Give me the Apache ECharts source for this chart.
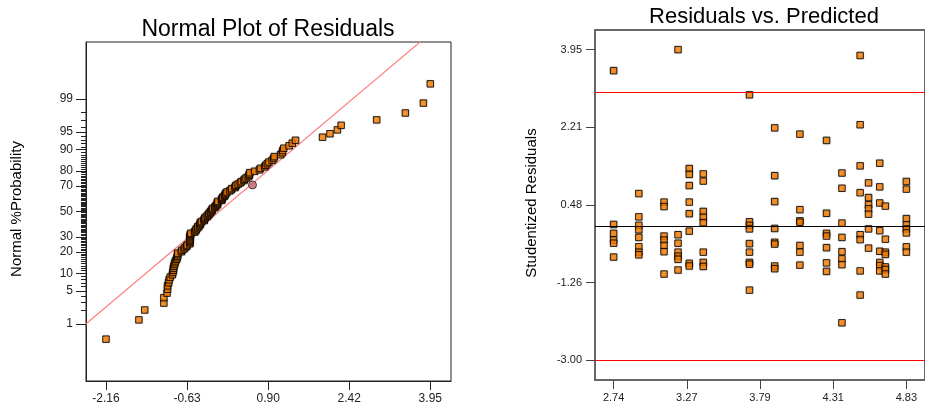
<!DOCTYPE html>
<html>
<head>
<meta charset="utf-8">
<title>Residual diagnostics</title>
<script src="https://cdn.jsdelivr.net/npm/echarts@6/dist/echarts.min.js"></script>
<style>
html, body { margin: 0; padding: 0; background: #fff; }
#chart { width: 925px; height: 408px; }
</style>
</head>
<body>
<div id="chart"></div>
<script>
/*--------------------------------- data --------------------------------------------------*/
// predicted values (one column of points each) and the studentized residuals at each
var predicted = [2.74, 2.92, 3.10, 3.20, 3.28, 3.38, 3.71, 3.89, 4.07, 4.26, 4.37, 4.50, 4.56, 4.64, 4.68, 4.83];
var residuals = [
    [3.48, 0.04, -0.16, -0.31, -0.38, -0.69],
    [0.73, 0.21, 0.02, -0.08, -0.25, -0.46, -0.58, -0.64],
    [0.54, 0.44, -0.22, -0.31, -0.43, -0.57, -1.07],
    [3.95, -0.19, -0.38, -0.58, -0.67, -0.74, -0.98],
    [1.29, 1.16, 0.91, 0.54, 0.28, -0.11, -0.83, -0.89],
    [1.17, 1.01, 0.33, 0.20, 0.08, -0.58, -0.81, -0.90],
    [2.94, 0.10, 0.02, -0.06, -0.39, -0.58, -0.81, -0.85, -1.43],
    [2.20, 1.13, 0.55, -0.05, -0.36, -0.40, -0.89, -0.95],
    [2.06, 0.37, 0.12, 0.09, -0.43, -0.58, -0.87],
    [1.92, 0.29, -0.16, -0.22, -0.48, -0.82, -1.01],
    [1.19, 0.85, 0.07, -0.25, -0.57, -0.73, -0.86, -2.16],
    [3.82, 2.27, 1.35, 0.75, -0.19, -0.30, -1.00, -1.54],
    [0.97, 0.64, 0.48, 0.39, 0.27, -0.06, -0.49],
    [1.41, 0.88, 0.52, -0.10, -0.56, -0.81, -0.88, -1.00],
    [0.45, -0.29, -0.58, -0.63, -0.91, -0.97, -1.07],
    [1.00, 0.83, 0.17, 0.03, -0.06, -0.15, -0.46, -0.58]
];
var limits = [-3.00, 3.00];

// normal plot: residual and its normal % probability
var normalX = [
    -2.16, -1.54, -1.43, -1.07, -1.07, -1.01, -1.00, -1.00, -0.98, -0.97,
    -0.95, -0.91, -0.90, -0.89, -0.89, -0.88, -0.87, -0.86, -0.85, -0.83,
    -0.82, -0.81, -0.81, -0.81, -0.74, -0.73, -0.69, -0.67, -0.64, -0.63,
    -0.58, -0.58, -0.58, -0.58, -0.58, -0.58, -0.58, -0.57, -0.57, -0.56,
    -0.49, -0.48, -0.46, -0.46, -0.43, -0.43, -0.40, -0.39, -0.38, -0.38,
    -0.36, -0.31, -0.31, -0.30, -0.29, -0.25, -0.25, -0.22, -0.22, -0.19,
    -0.19, -0.16, -0.16, -0.15, -0.11, -0.10, -0.08, -0.06, -0.06, -0.06,
    -0.05, 0.02, 0.02, 0.03, 0.04, 0.07, 0.08, 0.09, 0.10, 0.12,
    0.17, 0.20, 0.21, 0.27, 0.28, 0.29, 0.33, 0.37, 0.39, 0.44,
    0.45, 0.48, 0.52, 0.54, 0.54, 0.55, 0.64, 0.73, 0.75, 0.83,
    0.85, 0.88, 0.91, 0.97, 1.00, 1.01, 1.13, 1.16, 1.17, 1.19,
    1.29, 1.35, 1.41, 1.92, 2.06, 2.20, 2.27, 2.94, 3.48, 3.82,
    3.95
];
var normalPct = [
    0.41, 1.24, 2.07, 2.89, 3.72, 4.55, 5.37, 6.20, 7.02, 7.85,
    8.68, 9.50, 10.33, 11.16, 11.98, 12.81, 13.64, 14.46, 15.29, 16.12,
    16.94, 17.77, 18.60, 19.42, 20.25, 21.07, 21.90, 22.73, 23.55, 24.38,
    25.21, 26.03, 26.86, 27.69, 28.51, 29.34, 30.17, 30.99, 31.82, 32.64,
    33.47, 34.30, 35.12, 35.95, 36.78, 37.60, 38.43, 39.26, 40.08, 40.91,
    41.74, 42.56, 43.39, 44.21, 45.04, 45.87, 46.69, 47.52, 48.35, 49.17,
    50.00, 50.83, 51.65, 52.48, 53.31, 54.13, 54.96, 55.79, 56.61, 57.44,
    58.26, 59.09, 59.92, 60.74, 61.57, 62.40, 63.22, 64.05, 64.88, 65.70,
    66.53, 67.36, 68.18, 69.01, 69.83, 70.66, 71.49, 72.31, 73.14, 73.97,
    74.79, 75.62, 76.45, 77.27, 78.10, 78.93, 79.75, 80.58, 81.40, 82.23,
    83.06, 83.88, 84.71, 85.54, 86.36, 87.19, 88.02, 88.84, 89.67, 90.50,
    91.32, 92.15, 92.98, 93.80, 94.63, 95.45, 96.28, 97.11, 97.93, 98.76,
    99.59
];
var highlighted = [0.60, 70.9];          // the circled point
var fitLineX = [-2.54, 4.34];            // reference line ends, residual
var fitLineZ = [-2.33, 4.05];            // reference line ends, normal score

// tick labels
var normalXTicks = [-2.16, -0.6325, 0.895, 2.4225, 3.95];
var normalXLabels = ['-2.16', '-0.63', '0.90', '2.42', '3.95'];
var pctTicks = [1, 5, 10, 20, 30, 50, 70, 80, 90, 95, 99];
var predTicks = [2.74, 3.2625, 3.785, 4.3075, 4.83];
var predLabels = ['2.74', '3.27', '3.79', '4.31', '4.83'];
var resTicks = [-3.00, -1.2625, 0.475, 2.2125, 3.95];
var resLabels = ['-3.00', '-1.26', '0.48', '2.21', '3.95'];

/*--------------------------------- helpers -----------------------------------------------*/
// inverse normal cdf (Acklam), used for the probability axis
function probit(p) {
    var a = [-39.69683028665376, 220.9460984245205, -275.9285104469687, 138.3577518672690, -30.66479806614716, 2.506628277459239];
    var b = [-54.47609879822406, 161.5858368580409, -155.6989798598866, 66.80131188771972, -13.28068155211986];
    var c = [-0.007784894002430293, -0.3223964580411365, -2.400758277161838, -2.549732539343734, 4.374664141464968, 2.938163982698783];
    var d = [0.007784695709041462, 0.3224671290700398, 2.445134137142996, 3.754408661907416];
    var pl = 0.02425, q, r;
    if (p < pl) {
        q = Math.sqrt(-2 * Math.log(p));
        return (((((c[0] * q + c[1]) * q + c[2]) * q + c[3]) * q + c[4]) * q + c[5]) / ((((d[0] * q + d[1]) * q + d[2]) * q + d[3]) * q + 1);
    }
    if (p > 1 - pl) {
        q = Math.sqrt(-2 * Math.log(1 - p));
        return -(((((c[0] * q + c[1]) * q + c[2]) * q + c[3]) * q + c[4]) * q + c[5]) / ((((d[0] * q + d[1]) * q + d[2]) * q + d[3]) * q + 1);
    }
    q = p - 0.5;
    r = q * q;
    return (((((a[0] * r + a[1]) * r + a[2]) * r + a[3]) * r + a[4]) * r + a[5]) * q / (((((b[0] * r + b[1]) * r + b[2]) * r + b[3]) * r + b[4]) * r + 1);
}

function labelOf(ticks, labels) {
    return function (v) {
        var best = 0;
        for (var i = 1; i < ticks.length; i++) {
            if (Math.abs(ticks[i] - v) < Math.abs(ticks[best] - v)) best = i;
        }
        return labels[best];
    };
}

var pctZ = pctTicks.map(function (p) { return probit(p / 100); });
var minorZ = [];
for (var k = 2; k <= 98; k++) {
    if (pctTicks.indexOf(k) < 0) minorZ.push(probit(k / 100));
}

var normalData = normalX.map(function (x, i) { return [x, probit(normalPct[i] / 100)]; });
var residData = [];
for (var i = 0; i < predicted.length; i++) {
    for (var j = 0; j < residuals[i].length; j++) {
        residData.push([predicted[i], residuals[i][j]]);
    }
}

var FONT = 'Liberation Sans, Arial, sans-serif';
var squareStyle = {
    color: '#ff8000',
    borderColor: '#000',
    borderWidth: 1,
    shadowBlur: 1.5,
    shadowColor: 'rgba(0,0,0,0.3)'
};

/*--------------------------------- chart -------------------------------------------------*/
var chart = echarts.init(document.getElementById('chart'), null, { renderer: 'canvas' });

chart.setOption({
    animation: false,
    backgroundColor: '#fff',
    title: [{
        text: 'Normal Plot of Residuals',
        left: 268,
        top: 18,
        padding: 0,
        textAlign: 'center',
        textStyle: { fontSize: 23, fontWeight: 'normal', color: '#000', fontFamily: FONT }
    }, {
        text: 'Residuals vs. Predicted',
        left: 764,
        top: 6,
        padding: 0,
        textAlign: 'center',
        textStyle: { fontSize: 22, fontWeight: 'normal', color: '#000', fontFamily: FONT }
    }],
    graphic: [{
        type: 'text',
        x: 17,
        y: 209,
        rotation: Math.PI / 2,
        style: { text: 'Normal %Probability', font: '15px ' + FONT, fill: '#000', align: 'center', verticalAlign: 'middle' }
    }, {
        type: 'text',
        x: 532,
        y: 203,
        rotation: Math.PI / 2,
        style: { text: 'Studentized Residuals', font: '15px ' + FONT, fill: '#000', align: 'center', verticalAlign: 'middle' }
    }],
    grid: [{
        left: 86, right: 474, top: 42, bottom: 27,
        show: true, borderColor: '#222', borderWidth: 1
    }, {
        left: 595, right: -7, top: 30, bottom: 28,
        show: true, borderColor: '#666', borderWidth: 2
    }],
    xAxis: [{
        gridIndex: 0,
        type: 'value',
        min: -2.537,
        max: 4.34,
        splitLine: { show: false },
        axisLine: { onZero: false, lineStyle: { color: '#222', width: 1 } },
        axisTick: { customValues: normalXTicks, length: 9, lineStyle: { color: '#222' } },
        axisLabel: { customValues: normalXTicks, formatter: labelOf(normalXTicks, normalXLabels), margin: 12, fontSize: 12, color: '#222', fontFamily: FONT }
    }, {
        gridIndex: 1,
        type: 'value',
        min: 2.607,
        max: 4.963,
        splitLine: { show: false },
        axisLine: { onZero: false, lineStyle: { color: '#666', width: 2 } },
        axisTick: { customValues: predTicks, length: 9, lineStyle: { color: '#444' } },
        axisLabel: { customValues: predTicks, formatter: labelOf(predTicks, predLabels), margin: 12, fontSize: 11, color: '#222', fontFamily: FONT }
    }],
    yAxis: [{
        gridIndex: 0,
        type: 'value',
        position: 'left',
        min: -3.51,
        max: 3.51,
        splitLine: { show: false },
        axisLine: { onZero: false, lineStyle: { color: '#222', width: 1 } },
        axisTick: { customValues: pctZ, length: 10, lineStyle: { color: '#222' } },
        axisLabel: { customValues: pctZ, formatter: labelOf(pctZ, pctTicks), margin: 13, fontSize: 12, color: '#222', fontFamily: FONT }
    }, {
        gridIndex: 0,
        type: 'value',
        position: 'left',
        offset: 0,
        min: -3.51,
        max: 3.51,
        splitLine: { show: false },
        axisLine: { show: false, onZero: false },
        axisTick: { customValues: minorZ, length: 5, lineStyle: { color: '#222' } },
        axisLabel: { show: false }
    }, {
        gridIndex: 1,
        type: 'value',
        position: 'left',
        min: -3.44,
        max: 4.39,
        splitLine: { show: false },
        axisLine: { onZero: false, lineStyle: { color: '#666', width: 2 } },
        axisTick: { customValues: resTicks, length: 9, lineStyle: { color: '#444' } },
        axisLabel: { customValues: resTicks, formatter: labelOf(resTicks, resLabels), margin: 13, fontSize: 11, color: '#222', fontFamily: FONT }
    }],
    series: [{
        name: 'fit',
        type: 'line',
        xAxisIndex: 0,
        yAxisIndex: 0,
        z: 1,
        clip: true,
        symbol: 'none',
        silent: true,
        lineStyle: { color: '#ff8080', width: 1.2 },
        data: [[fitLineX[0], fitLineZ[0]], [fitLineX[1], fitLineZ[1]]]
    }, {
        name: 'normal',
        type: 'scatter',
        xAxisIndex: 0,
        yAxisIndex: 0,
        z: 3,
        symbol: 'rect',
        symbolSize: 6.5,
        itemStyle: squareStyle,
        data: normalData
    }, {
        name: 'highlighted',
        type: 'scatter',
        xAxisIndex: 0,
        yAxisIndex: 0,
        z: 4,
        symbol: 'circle',
        symbolSize: 8,
        itemStyle: { color: '#c46468', borderColor: '#222', borderWidth: 1 },
        data: [[highlighted[0], probit(highlighted[1] / 100)]]
    }, {
        name: 'residuals',
        type: 'scatter',
        xAxisIndex: 1,
        yAxisIndex: 2,
        z: 3,
        symbol: 'rect',
        symbolSize: 6.5,
        itemStyle: squareStyle,
        data: residData,
        markLine: {
            silent: true,
            symbol: 'none',
            label: { show: false },
            data: [
                { yAxis: limits[1], lineStyle: { color: '#ff0000', width: 1, type: 'solid' } },
                { yAxis: limits[0], lineStyle: { color: '#ff0000', width: 1, type: 'solid' } },
                { yAxis: 0, lineStyle: { color: '#000', width: 1, type: 'solid' } }
            ]
        }
    }]
});
</script>
</body>
</html>
